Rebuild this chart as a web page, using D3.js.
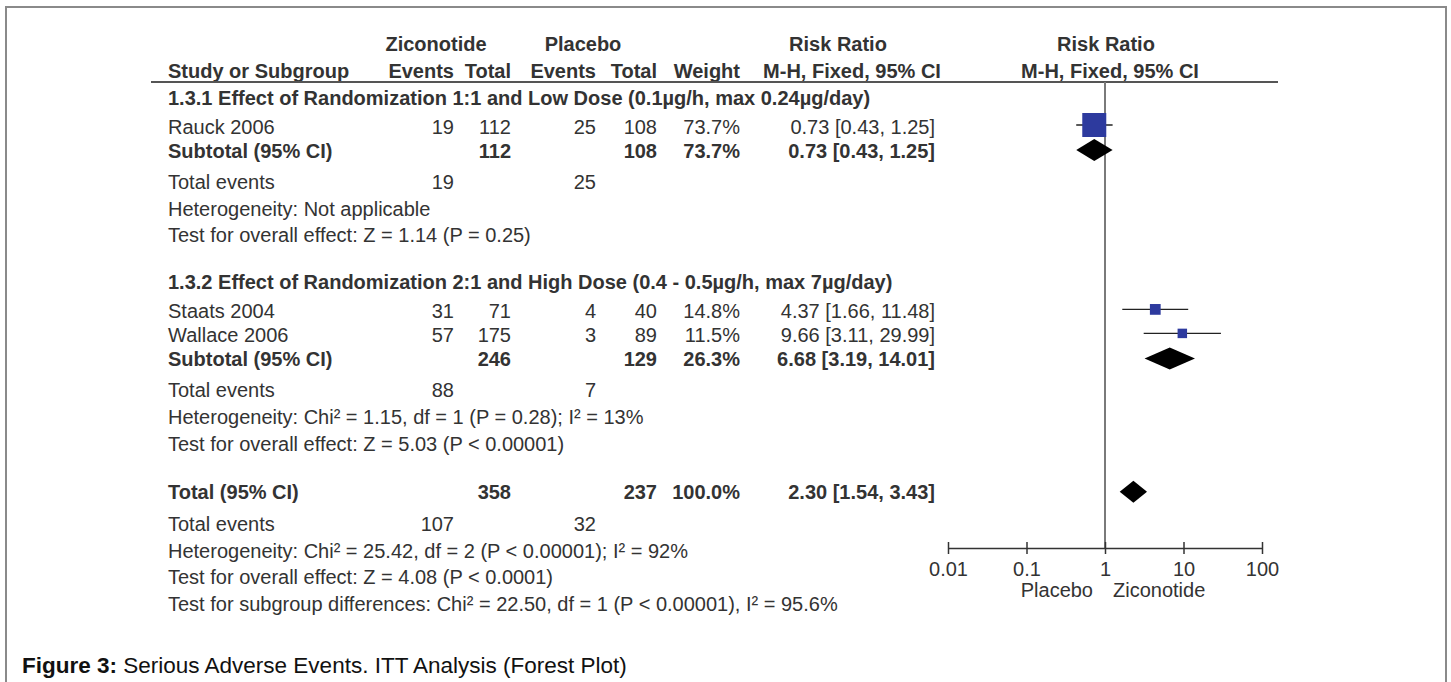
<!DOCTYPE html>
<html>
<head>
<meta charset="utf-8">
<script src="https://cdnjs.cloudflare.com/ajax/libs/d3/7.8.5/d3.min.js"></script>
<style>
  html, body { margin: 0; padding: 0; background: #fff; }
  svg { display: block; }
  text { font-family: "Liberation Sans", Arial, sans-serif; fill: #333; }
</style>
</head>
<body>
<div id="chart"></div>
<script>
// ---- data ----
const studyNames = ["Rauck 2006", "Staats 2004", "Wallace 2006"];
const studyGroup = [0, 1, 1];
const zicEvents = [19, 31, 57];
const zicTotal = [112, 71, 175];
const plaEvents = [25, 4, 3];
const plaTotal = [108, 40, 89];
const studyWeight = [73.7, 14.8, 11.5];
const studyRR = [0.73, 4.37, 9.66];
const studyLow = [0.43, 1.66, 3.11];
const studyHigh = [1.25, 11.48, 29.99];

const groupTitles = [
  "1.3.1 Effect of Randomization 1:1 and Low Dose (0.1µg/h, max 0.24µg/day)",
  "1.3.2 Effect of Randomization 2:1 and High Dose (0.4 - 0.5µg/h, max 7µg/day)"
];
const groupZicTotal = [112, 246];
const groupPlaTotal = [108, 129];
const groupZicEvents = [19, 88];
const groupPlaEvents = [25, 7];
const groupWeight = [73.7, 26.3];
const groupRR = [0.73, 6.68];
const groupLow = [0.43, 3.19];
const groupHigh = [1.25, 14.01];
const groupHet = [
  "Heterogeneity: Not applicable",
  "Heterogeneity: Chi² = 1.15, df = 1 (P = 0.28); I² = 13%"
];
const groupTest = [
  "Test for overall effect: Z = 1.14 (P = 0.25)",
  "Test for overall effect: Z = 5.03 (P < 0.00001)"
];

const totalZic = 358, totalPla = 237, totalWeight = 100.0;
const totalRR = [2.30, 1.54, 3.43];
const totalEvents = [107, 32];
const totalHet = "Heterogeneity: Chi² = 25.42, df = 2 (P < 0.00001); I² = 92%";
const totalTest = "Test for overall effect: Z = 4.08 (P < 0.0001)";
const subgroupTest = "Test for subgroup differences: Chi² = 22.50, df = 1 (P < 0.00001), I² = 95.6%";

const axisTicks = [0.01, 0.1, 1, 10, 100];
const axisTickLabels = ["0.01", "0.1", "1", "10", "100"];
const favourLabels = ["Placebo", "Ziconotide"];

// ---- layout ----
const width = 1451, height = 682;
const FS = 20;
const col = { label: 168, zicE: 454, zicT: 511, plaE: 596, plaT: 657, w: 740, ci: 935 };
const headY1 = 44, headY2 = 71, lineY = 82;
const rowStep = 26.7;

const svg = d3.select('#chart').append('svg')
  .attr('width', width)
  .attr('height', height);

// frame (open at bottom)
svg.append('path')
  .attr('d', `M6,${height} V7 H1446 V${height}`)
  .attr('fill', 'none')
  .attr('stroke', '#8a8a8a')
  .attr('stroke-width', 2);

// build the row list; step is the distance to the next row
const rows = [];
let y = 98;
function push(r, step = rowStep) { r.y = y; rows.push(r); y += step; }

groupTitles.forEach((title, g) => {
  push({ kind: 'group', text: title }, 29);
  studyNames.forEach((name, i) => {
    if (studyGroup[i] !== g) return;
    push({ kind: 'study', i }, 24);
  });
  push({ kind: 'subtotal', g }, 31);
  push({ kind: 'events', zic: groupZicEvents[g], pla: groupPlaEvents[g] });
  push({ kind: 'note', text: groupHet[g] });
  push({ kind: 'note', text: groupTest[g] }, g === 0 ? 47 : 48);
});
push({ kind: 'total' }, 32);
push({ kind: 'events', zic: totalEvents[0], pla: totalEvents[1] });
push({ kind: 'note', text: totalHet });
push({ kind: 'note', text: totalTest });
push({ kind: 'note', text: subgroupTest });

// scales
const x = d3.scaleLog().domain([0.01, 100]).range([948, 1262]);
const boxSize = d3.scaleSqrt().domain([0, d3.max(studyWeight)]).range([0, 24]);

function txt(g, xPos, yPos, s, opts = {}) {
  return g.append('text')
    .attr('x', xPos)
    .attr('y', yPos)
    .attr('dy', '0.35em')
    .attr('text-anchor', opts.anchor || 'start')
    .style('font-size', (opts.size || FS) + 'px')
    .style('font-weight', opts.bold ? 'bold' : 'normal')
    .text(s);
}

// header
const head = svg.append('g');
txt(head, 436, headY1, 'Ziconotide', { anchor: 'middle', bold: true });
txt(head, 583, headY1, 'Placebo', { anchor: 'middle', bold: true });
txt(head, 838, headY1, 'Risk Ratio', { anchor: 'middle', bold: true });
txt(head, 1106, headY1, 'Risk Ratio', { anchor: 'middle', bold: true });
txt(head, col.label, headY2, 'Study or Subgroup', { bold: true });
txt(head, col.zicE, headY2, 'Events', { anchor: 'end', bold: true });
txt(head, col.zicT, headY2, 'Total', { anchor: 'end', bold: true });
txt(head, col.plaE, headY2, 'Events', { anchor: 'end', bold: true });
txt(head, col.plaT, headY2, 'Total', { anchor: 'end', bold: true });
txt(head, col.w, headY2, 'Weight', { anchor: 'end', bold: true });
txt(head, 852, headY2, 'M-H, Fixed, 95% CI', { anchor: 'middle', bold: true });
txt(head, 1110, headY2, 'M-H, Fixed, 95% CI', { anchor: 'middle', bold: true });

svg.append('line')
  .attr('x1', 151).attr('x2', 1278)
  .attr('y1', lineY).attr('y2', lineY)
  .attr('stroke', '#555').attr('stroke-width', 2);

// null line
const axisY = 548;
svg.append('line')
  .attr('x1', x(1)).attr('x2', x(1))
  .attr('y1', lineY).attr('y2', axisY)
  .attr('stroke', '#7a7a7a').attr('stroke-width', 2);

const ciText = (m, l, h) => `${m.toFixed(2)} [${l.toFixed(2)}, ${h.toFixed(2)}]`;
const table = svg.append('g');
const plot = svg.append('g');

function diamond(yc, m, l, h) {
  const hh = 11;
  plot.append('path')
    .attr('d', `M${x(l)},${yc} L${x(m)},${yc - hh} L${x(h)},${yc} L${x(m)},${yc + hh} Z`)
    .attr('fill', '#000');
}

rows.forEach(r => {
  if (r.kind === 'group') {
    txt(table, col.label, r.y, r.text, { bold: true });
  } else if (r.kind === 'study') {
    const i = r.i;
    txt(table, col.label, r.y, studyNames[i]);
    txt(table, col.zicE, r.y, zicEvents[i], { anchor: 'end' });
    txt(table, col.zicT, r.y, zicTotal[i], { anchor: 'end' });
    txt(table, col.plaE, r.y, plaEvents[i], { anchor: 'end' });
    txt(table, col.plaT, r.y, plaTotal[i], { anchor: 'end' });
    txt(table, col.w, r.y, studyWeight[i].toFixed(1) + '%', { anchor: 'end' });
    txt(table, col.ci, r.y, ciText(studyRR[i], studyLow[i], studyHigh[i]), { anchor: 'end' });
    const yc = r.y - 2;
    plot.append('line')
      .attr('x1', x(studyLow[i])).attr('x2', x(studyHigh[i]))
      .attr('y1', yc).attr('y2', yc)
      .attr('stroke', '#222').attr('stroke-width', 1.3);
    const s = boxSize(studyWeight[i]);
    plot.append('rect')
      .attr('x', x(studyRR[i]) - s / 2).attr('y', yc - s / 2)
      .attr('width', s).attr('height', s)
      .attr('fill', '#2d3a9e');
  } else if (r.kind === 'subtotal') {
    const g = r.g;
    txt(table, col.label, r.y, 'Subtotal (95% CI)', { bold: true });
    txt(table, col.zicT, r.y, groupZicTotal[g], { anchor: 'end', bold: true });
    txt(table, col.plaT, r.y, groupPlaTotal[g], { anchor: 'end', bold: true });
    txt(table, col.w, r.y, groupWeight[g].toFixed(1) + '%', { anchor: 'end', bold: true });
    txt(table, col.ci, r.y, ciText(groupRR[g], groupLow[g], groupHigh[g]), { anchor: 'end', bold: true });
    diamond(r.y - 1, groupRR[g], groupLow[g], groupHigh[g]);
  } else if (r.kind === 'events') {
    txt(table, col.label, r.y, 'Total events');
    txt(table, col.zicE, r.y, r.zic, { anchor: 'end' });
    txt(table, col.plaE, r.y, r.pla, { anchor: 'end' });
  } else if (r.kind === 'note') {
    txt(table, col.label, r.y, r.text);
  } else if (r.kind === 'total') {
    txt(table, col.label, r.y, 'Total (95% CI)', { bold: true });
    txt(table, col.zicT, r.y, totalZic, { anchor: 'end', bold: true });
    txt(table, col.plaT, r.y, totalPla, { anchor: 'end', bold: true });
    txt(table, col.w, r.y, totalWeight.toFixed(1) + '%', { anchor: 'end', bold: true });
    txt(table, col.ci, r.y, ciText(totalRR[0], totalRR[1], totalRR[2]), { anchor: 'end', bold: true });
    diamond(r.y, totalRR[0], totalRR[1], totalRR[2]);
  }
});

// axis
const axis = d3.axisBottom(x)
  .tickValues(axisTicks)
  .tickFormat((d, i) => axisTickLabels[i])
  .tickSizeInner(6)
  .tickSizeOuter(0)
  .tickPadding(8);
const ag = svg.append('g')
  .attr('transform', `translate(0,${axisY})`)
  .call(axis);
ag.select('.domain').attr('stroke', '#333').attr('stroke-width', 1.5);
ag.selectAll('.tick line').attr('y1', -6).attr('stroke', '#333').attr('stroke-width', 1.5);
ag.selectAll('.tick text')
  .style('font-size', FS + 'px')
  .style('font-family', '"Liberation Sans", Arial, sans-serif')
  .attr('fill', '#333');

txt(svg, x(1) - 12, 590, favourLabels[0], { anchor: 'end' });
txt(svg, x(1) + 8, 590, favourLabels[1]);

// caption
const cap = svg.append('text')
  .attr('x', 22).attr('y', 665).attr('dy', '0.35em')
  .style('font-family', '"Liberation Sans", Arial, sans-serif')
  .style('font-size', '22.5px')
  .style('fill', '#111');
cap.append('tspan').style('font-weight', 'bold').text('Figure 3:');
cap.append('tspan').text(' Serious Adverse Events. ITT Analysis (Forest Plot)');
</script>
</body>
</html>
